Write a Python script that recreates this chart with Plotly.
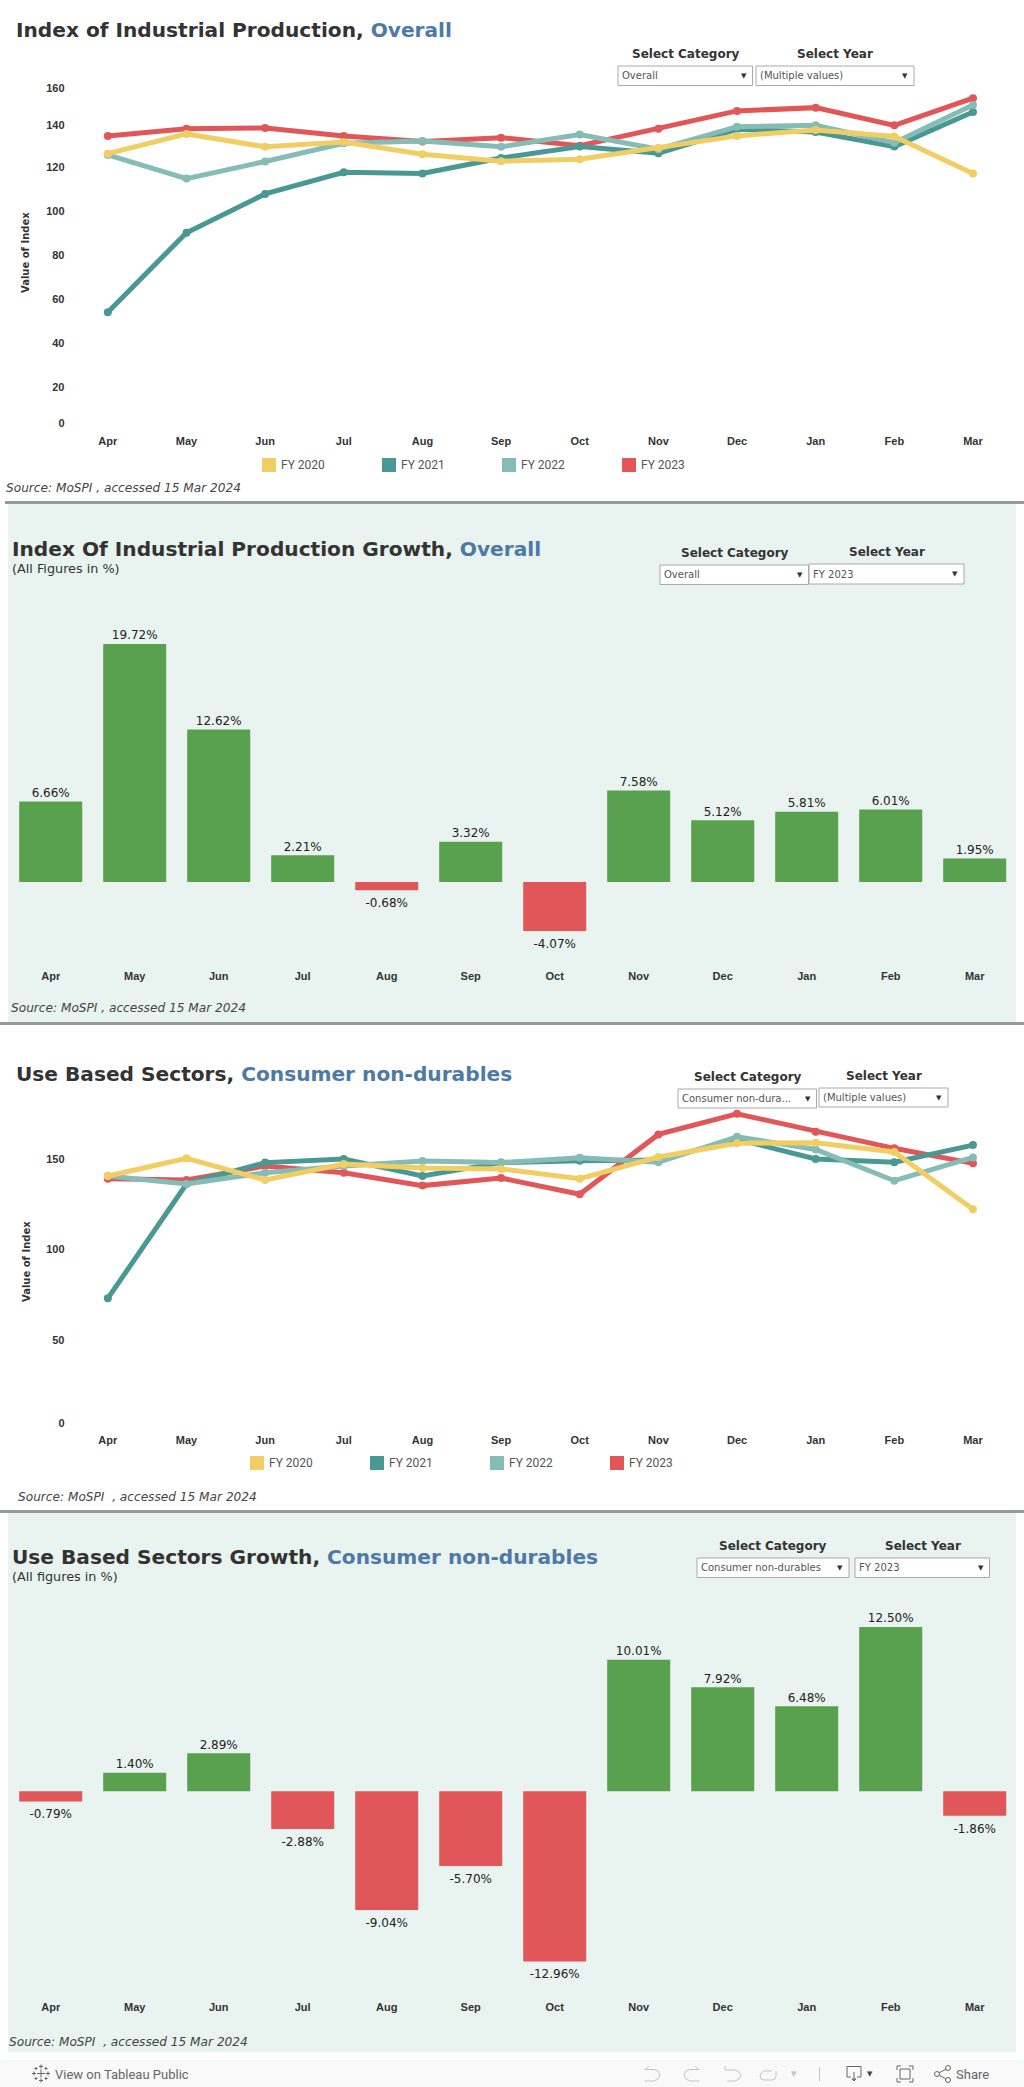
import plotly.graph_objects as go

W, H = 1024, 2087

MONTHS = ["Apr", "May", "Jun", "Jul", "Aug", "Sep", "Oct", "Nov", "Dec", "Jan", "Feb", "Mar"]
YEARS = ["FY 2020", "FY 2021", "FY 2022", "FY 2023"]

IIP_FY2020 = [126.4, 135.4, 129.5, 131.7, 126.1, 122.9, 123.8, 129.0, 134.5, 137.2, 134.2, 117.3]
IIP_FY2021 = [54.0, 90.3, 108.0, 117.9, 117.3, 124.4, 129.6, 126.6, 137.5, 136.3, 129.6, 145.4]
IIP_FY2022 = [125.8, 115.0, 122.8, 131.1, 132.2, 129.5, 135.1, 128.4, 138.7, 139.3, 131.4, 148.6]
IIP_FY2023 = [134.5, 137.8, 138.1, 134.5, 131.9, 133.7, 130.0, 137.8, 145.9, 147.4, 139.3, 151.7]

IIP_GROWTH = [6.66, 19.72, 12.62, 2.21, -0.68, 3.32, -4.07, 7.58, 5.12, 5.81, 6.01, 1.95]

CND_FY2020 = [140.6, 150.4, 138.4, 147.2, 145.0, 144.5, 139.1, 151.1, 158.7, 159.0, 153.9, 122.2]
CND_FY2021 = [73.0, 136.2, 148.0, 150.0, 140.6, 148.0, 149.1, 149.4, 160.9, 150.0, 148.2, 157.7]
CND_FY2022 = [140.6, 136.2, 142.4, 146.1, 148.9, 148.0, 150.7, 148.2, 162.3, 155.3, 138.0, 150.9]
CND_FY2023 = [139.1, 138.4, 146.1, 142.4, 135.3, 139.5, 130.5, 163.6, 175.0, 165.1, 155.9, 147.6]

CND_GROWTH = [-0.79, 1.40, 2.89, -2.88, -9.04, -5.70, -12.96, 10.01, 7.92, 6.48, 12.50, -1.86]

IIP_TICK_TEXT = ["0", "20", "40", "60", "80", "100", "120", "140", "160"]
CND_TICK_TEXT = ["0", "50", "100", "150"]
# Tableau nudges the extreme labels inwards, so these are the label centres on the scale.
IIP_TICK_AT = [3.5, 20, 40, 60, 80, 100, 120, 139.5, 156.4]
CND_TICK_AT = [4.3, 50, 100, 150]

YELLOW, TEAL, LIGHT, RED = "#F1CE63", "#499894", "#86BCB6", "#E15759"
GREEN, BLUE, DARK, PANEL, RULE = "#59A14F", "#4E79A7", "#333333", "#E9F3F0", "#979A98"
SERIES_COLORS = [YELLOW, TEAL, LIGHT, RED]
DRAW_ORDER = [3, 1, 2, 0]

TICKFONT = dict(family="Liberation Sans", size=11, color="#333333")


def px(x):
    return x / W


def py(y):
    return 1 - y / H


fig = go.Figure()
annotations, shapes = [], []


def text(x, y, s, size=11, color="#333333", family="DejaVu Sans", anchor="left", angle=0):
    annotations.append(dict(
        x=px(x), y=py(y), xref="paper", yref="paper", text=s, showarrow=False,
        xanchor=anchor, yanchor="middle", textangle=angle,
        font=dict(family=family, size=size, color=color), borderpad=0, borderwidth=0,
    ))


def rect(x0, y0, x1, y1, fill, line=None, layer="below", width=1):
    shapes.append(dict(
        type="rect", xref="paper", yref="paper", x0=px(x0), x1=px(x1), y0=py(y0), y1=py(y1),
        fillcolor=fill, layer=layer,
        line=dict(color=line, width=width) if line else dict(width=0),
    ))


def poly(points, color="#bbbbbb", width=1.0, close=False):
    d = "M" + " L".join(f"{px(a):.5f},{py(b):.5f}" for a, b in points) + (" Z" if close else "")
    shapes.append(dict(type="path", xref="paper", yref="paper", path=d, layer="above",
                       line=dict(color=color, width=width)))


def heading(x, y, main, accent, size=20.15):
    text(x, y, f"<b>{main} <span style='color:{BLUE}'>{accent}</span></b>", size=size, color=DARK)


def source(x, y, s):
    text(x, y, f"<i>{s}</i>", size=12.15, color="#444444")


def control(cx, cy, label, x0, y0, x1, y1, value):
    text(cx, cy, f"<b>{label}</b>", size=12, color=DARK, anchor="center")
    rect(x0, y0, x1, y1, "#FFFFFF", "#A9A9A9", layer="above")
    text(x0 + 4, (y0 + y1) / 2, value, size=10, color="#555555")
    text(x1 - 9, (y0 + y1) / 2, "▼", size=7, color="#333333", anchor="center")


def legend(x0s, y):
    for name, color, x in zip(YEARS, SERIES_COLORS, x0s):
        rect(x, y - 7, x + 14, y + 7, color)
        text(x + 19, y, name, size=12, color="#555555", family="Roboto")


def line_panel(n, series, top, bottom, vtop, vbottom, tick_at, tick_text):
    suffix = "" if n == 1 else str(n)
    for i in DRAW_ORDER:
        fig.add_trace(go.Scatter(
            x=MONTHS, y=series[i], name=YEARS[i], mode="lines+markers", showlegend=False,
            xaxis=f"x{suffix}", yaxis=f"y{suffix}", cliponaxis=False,
            line=dict(color=SERIES_COLORS[i], width=5),
            marker=dict(color=SERIES_COLORS[i], size=8),
        ))
    fig.update_layout({
        f"xaxis{suffix}": dict(
            domain=[px(68.5), px(1012.3)], anchor=f"y{suffix}", type="category",
            categoryorder="array", categoryarray=MONTHS, range=[-0.5, 11.5],
            showgrid=False, zeroline=False, showline=False, ticks="", tickangle=0,
            tickfont=dict(TICKFONT, weight="bold"), fixedrange=True,
        ),
        f"yaxis{suffix}": dict(
            domain=[py(bottom), py(top)], anchor=f"x{suffix}", range=[vbottom, vtop],
            tickmode="array", tickvals=tick_at, ticktext=tick_text,
            showgrid=False, zeroline=False, showline=False, ticks="", ticklabelstandoff=3,
            tickfont=dict(TICKFONT, weight="bold"), fixedrange=True,
        ),
    })


def bar_panel(n, values, top, bottom, vtop, vbottom):
    suffix = str(n)
    fig.add_trace(go.Bar(
        x=MONTHS, y=values, showlegend=False, xaxis=f"x{suffix}", yaxis=f"y{suffix}",
        marker=dict(color=[GREEN if v >= 0 else RED for v in values], line=dict(width=0)),
    ))
    fig.add_trace(go.Scatter(
        x=MONTHS, y=values, showlegend=False, xaxis=f"x{suffix}", yaxis=f"y{suffix}",
        mode="markers+text", cliponaxis=False,
        marker=dict(opacity=0, size=[1 if v >= 0 else 11 for v in values]),
        text=[f"{v:.2f}%" for v in values],
        textposition=["top center" if v >= 0 else "bottom center" for v in values],
        textfont=dict(family="DejaVu Sans", size=12, color="#222222"),
    ))
    fig.update_layout({
        f"xaxis{suffix}": dict(
            domain=[px(8.7), px(1016.7)], anchor=f"y{suffix}", type="category",
            categoryorder="array", categoryarray=MONTHS, range=[-0.5, 11.5],
            showgrid=False, zeroline=False, showline=False, ticks="", tickangle=0,
            tickfont=dict(TICKFONT, weight="bold"), fixedrange=True,
        ),
        f"yaxis{suffix}": dict(
            domain=[py(bottom), py(top)], anchor=f"x{suffix}", range=[vbottom, vtop],
            visible=False, fixedrange=True,
        ),
    })


# ---- backgrounds and rules
rect(8, 504, 1016, 1022, PANEL)
rect(8, 1513, 1016, 2052, PANEL)
rect(5, 501, 1024, 504, RULE)
rect(0, 1022, 1024, 1025, RULE)
rect(0, 1510, 1024, 1513, RULE)
rect(0, 2060, 1024, 2087, "#F9F9F9")

# ---- panel 1
line_panel(1, [IIP_FY2020, IIP_FY2021, IIP_FY2022, IIP_FY2023], 75, 432.5, 162.3, -0.93,
           IIP_TICK_AT, IIP_TICK_TEXT)
heading(16, 30, "Index of Industrial Production,", "Overall")
control(686, 54, "Select Category", 618, 66, 752.5, 85.5, "Overall")
control(835, 54, "Select Year", 756, 66, 914, 85.5, "(Multiple values)")
text(26, 253, "<b>Value of Index</b>", size=10, anchor="center", angle=-90)
legend([262, 382, 502, 622], 465)
source(6, 488, "Source: MoSPI , accessed 15 Mar 2024")

# ---- panel 2
bar_panel(2, IIP_GROWTH, 620, 968, 21.7, -7.13)
heading(12, 549, "Index Of Industrial Production Growth,", "Overall")
text(12, 568.5, "(All Figures in %)", size=12.8, color=DARK)
control(735, 553, "Select Category", 660, 565, 808.5, 584.5, "Overall")
control(887, 552, "Select Year", 809, 564, 964, 584, "FY 2023")
source(10.5, 1008, "Source: MoSPI , accessed 15 Mar 2024")

# ---- panel 3
line_panel(3, [CND_FY2020, CND_FY2021, CND_FY2022, CND_FY2023], 1100, 1432, 182.6, -0.83,
           CND_TICK_AT, CND_TICK_TEXT)
heading(16, 1074, "Use Based Sectors,", "Consumer non-durables")
control(748, 1077, "Select Category", 678, 1089, 816.5, 1108, "Consumer non-dura...")
control(884, 1076, "Select Year", 819, 1088, 948, 1107, "(Multiple values)")
text(26, 1262, "<b>Value of Index</b>", size=10, anchor="center", angle=-90)
legend([250, 370, 490, 610], 1463)
source(18, 1497, "Source: MoSPI  , accessed 15 Mar 2024")

# ---- panel 4
bar_panel(4, CND_GROWTH, 1600, 1999.3, 14.56, -15.84)
heading(12, 1557, "Use Based Sectors Growth,", "Consumer non-durables")
text(12, 1576, "(All figures in %)", size=12.8, color=DARK)
control(772.5, 1546, "Select Category", 697, 1558, 849, 1577.5, "Consumer non-durables")
control(923, 1546, "Select Year", 855, 1558, 989.5, 1577.5, "FY 2023")
source(9, 2042, "Source: MoSPI  , accessed 15 Mar 2024")

# ---- Tableau toolbar
text(55, 2074, "View on Tableau Public", size=13, color="#666666", family="Roboto")
text(956, 2074, "Share", size=13, color="#666666", family="Roboto")
for cx, cy, r in [(41, 2073.5, 4), (41, 2066.5, 2), (41, 2080.5, 2), (34, 2073.5, 2), (48, 2073.5, 2),
                  (36, 2068.5, 1.5), (46, 2068.5, 1.5), (36, 2078.5, 1.5), (46, 2078.5, 1.5)]:
    poly([(cx - r, cy), (cx + r, cy)], "#666666")
    poly([(cx, cy - r), (cx, cy + r)], "#666666")
LIGHT_ICON = "#C4C4C4"
poly([(649, 2066), (645, 2069.5), (654, 2069.5), (658, 2071), (660, 2075), (658, 2079), (654, 2081), (645, 2081)], LIGHT_ICON)
poly([(695, 2066), (699, 2069.5), (690, 2069.5), (686, 2071), (684, 2075), (686, 2079), (690, 2081), (699, 2081)], LIGHT_ICON)
poly([(725, 2066), (725, 2070), (735, 2070), (739, 2072), (741, 2075), (739, 2079), (735, 2081), (727, 2081)], LIGHT_ICON)
poly([(772, 2071), (764, 2071), (761, 2073), (760, 2076), (761, 2079), (764, 2080), (772, 2080), (775, 2079), (776, 2076), (776, 2071)], LIGHT_ICON)
text(793.5, 2074, "▼", size=7, color=LIGHT_ICON, anchor="center")
poly([(819.5, 2067), (819.5, 2081)], LIGHT_ICON)
poly([(851, 2077), (847, 2077), (847, 2066.5), (861, 2066.5), (861, 2077), (857, 2077)], "#666666")
poly([(854, 2072), (854, 2081), (852, 2079), (856, 2079), (854, 2081)], "#666666")
text(869.5, 2074, "▼", size=7, color="#444444", anchor="center")
poly([(900, 2069), (910, 2069), (910, 2079), (900, 2079)], "#666666", close=True)
for a, b in [((897, 2070), (897, 2066)), ((897, 2066), (901, 2066)), ((909, 2066), (913, 2066)), ((913, 2066), (913, 2070)),
             ((897, 2078), (897, 2082)), ((897, 2082), (901, 2082)), ((909, 2082), (913, 2082)), ((913, 2082), (913, 2078))]:
    poly([a, b], "#666666")
for cx, cy in [(937, 2074), (948, 2068), (948, 2080)]:
    shapes.append(dict(type="circle", xref="paper", yref="paper", layer="above",
                       x0=px(cx - 2.5), x1=px(cx + 2.5), y0=py(cy + 2.5), y1=py(cy - 2.5),
                       line=dict(color="#666666", width=1)))
poly([(945.8, 2069.2), (939.2, 2072.8)], "#666666")
poly([(945.8, 2078.8), (939.2, 2075.2)], "#666666")

fig.update_layout(
    width=W, height=H, autosize=False, margin=dict(l=0, r=0, t=0, b=0, pad=0),
    paper_bgcolor="#FFFFFF", plot_bgcolor="rgba(0,0,0,0)",
    bargap=0.25, barmode="overlay", showlegend=False, annotations=annotations, shapes=shapes,
    font=dict(family="DejaVu Sans"),
)
fig.write_html(
    "out.html",
    config=dict(displayModeBar=False, responsive=False),
    post_script="document.body.style.margin='0';document.documentElement.style.overflow='hidden';",
)
